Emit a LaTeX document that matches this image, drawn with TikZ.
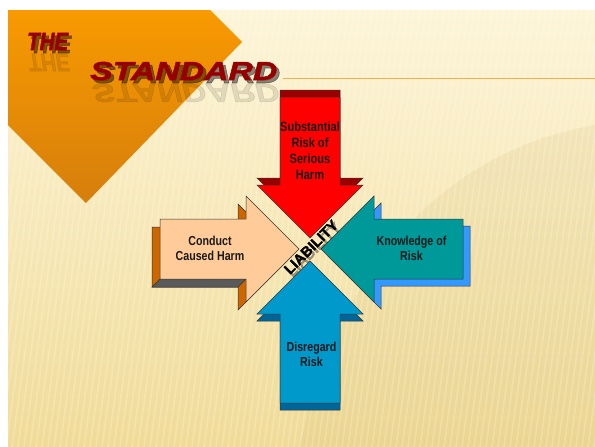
\documentclass[tikz,border=0pt]{standalone}
\usepackage{fontspec}
\usepackage{xcolor}
\usepackage{tikz}
\setmainfont{Liberation Sans}
\newfontfamily\narrowsans[FakeStretch=0.82]{Liberation Sans}
\newfontfamily\thesans[FakeStretch=0.82, FakeBold=2]{Liberation Sans}
\newfontfamily\widesans[FakeStretch=1.3, FakeBold=2]{Liberation Sans}
\newfontfamily\liabsans[FakeBold=1.2]{Liberation Sans}

\definecolor{bgtop}{RGB}{253,245,216}
\definecolor{bgbot}{RGB}{240,219,150}
\definecolor{swoosh}{RGB}{214,190,120}
\definecolor{orangetop}{RGB}{248,154,0}
\definecolor{orangebot}{RGB}{214,126,12}
\definecolor{titlered}{RGB}{150,0,0}
\definecolor{rule}{RGB}{240,176,80}
\definecolor{redface}{RGB}{255,0,0}
\definecolor{redside}{RGB}{153,0,0}
\definecolor{peachface}{RGB}{255,204,153}
\definecolor{peachside}{RGB}{204,102,0}
\definecolor{peachbot}{RGB}{90,90,90}
\definecolor{tealface}{RGB}{0,153,153}
\definecolor{tealside}{RGB}{51,153,255}
\definecolor{blueface}{RGB}{0,153,204}
\definecolor{blueside}{RGB}{0,102,153}

\begin{document}
\begin{tikzpicture}[x=1pt, y=-1pt, line join=miter,
    face/.style={draw=black!80, line width=0.5pt},
    boxtext/.style={font=\narrowsans\bfseries\fontsize{13}{15}\selectfont, align=center, text=black!90, inner sep=0pt},
    titletext/.style={inner sep=0pt, anchor=base west},
    liabtext/.style={font=\liabsans\bfseries\fontsize{14.5}{14.5}\selectfont, rotate=45, inner sep=0pt}]
  \useasboundingbox (0,0) rectangle (595,447);
  \fill[white] (0,0) rectangle (595,447);

  % slide background
  \shade[top color=bgtop, bottom color=bgbot] (8,10) rectangle (595,447);
  \begin{scope}
    \clip (8,10) rectangle (595,447);
    \fill[swoosh, opacity=0.18] (300,447) .. controls (340,260) and (450,150) .. (595,125) -- (595,447) -- cycle;
    \foreach \i in {0,6,...,690}
      \draw[white, opacity=0.2, line width=1.8pt] (\i-60,447) -- (\i,10);
  \end{scope}
  \shade[top color=orangetop, bottom color=orangebot] (8,10) -- (210,10) -- (242,42) -- (86,203) -- (8,125) -- cycle;
  \draw[rule, line width=1pt] (283,78) -- (595,78);

  % title
  \node[titletext, text=black, opacity=0.1, yscale=-1, font=\thesans\bfseries\itshape\fontsize{25}{25}\selectfont] (thereflect) at (28,54) {THE};
  \node[titletext, text=black, opacity=0.45, font=\thesans\bfseries\itshape\fontsize{25}{25}\selectfont] (theshadow) at (30,53) {THE};
  \node[titletext, text=titlered, font=\thesans\bfseries\itshape\fontsize{25}{25}\selectfont] (the) at (27,50) {THE};
  \node[titletext, text=black, opacity=0.1, yscale=-1, font=\widesans\bfseries\itshape\fontsize{26}{26}\selectfont] (standardreflect) at (92,84) {STANDARD};
  \node[titletext, text=black, opacity=0.45, font=\widesans\bfseries\itshape\fontsize{26}{26}\selectfont] (standardshadow) at (93,83) {STANDARD};
  \node[titletext, text=titlered, font=\widesans\bfseries\itshape\fontsize{26}{26}\selectfont] (standard) at (90,80) {STANDARD};

  % red arrow, down
  \draw[face, fill=redside, shift={(0,-7)}] (280,97) -- (340,97) -- (340,185) -- (363,185) -- (310,238) -- (257,185) -- (280,185) -- cycle;
  \draw[face, fill=redface] (280,97) -- (340,97) -- (340,185) -- (363,185) -- (310,238) -- (257,185) -- (280,185) -- cycle;

  % peach arrow, right
  \draw[face, fill=peachside, shift={(-8,8)}] (160,219) -- (246,219) -- (246,196) -- (299,249) -- (246,302) -- (246,279) -- (160,279) -- cycle;
  \draw[face, fill=peachbot] (160,279) -- (246,279) -- (238,287) -- (152,287) -- cycle;
  \draw[face, fill=peachface] (160,219) -- (246,219) -- (246,196) -- (299,249) -- (246,302) -- (246,279) -- (160,279) -- cycle;

  % teal arrow, left
  \draw[face, fill=tealside, shift={(7,7)}] (463,219) -- (374,219) -- (374,196) -- (321,249) -- (374,302) -- (374,279) -- (463,279) -- cycle;
  \draw[face, fill=tealface] (463,219) -- (374,219) -- (374,196) -- (321,249) -- (374,302) -- (374,279) -- (463,279) -- cycle;

  % blue arrow, up
  \draw[face, fill=blueside, shift={(0,7)}] (280,403) -- (340,403) -- (340,314) -- (363,314) -- (310,261) -- (257,314) -- (280,314) -- cycle;
  \draw[face, fill=blueface] (280,403) -- (340,403) -- (340,314) -- (363,314) -- (310,261) -- (257,314) -- (280,314) -- cycle;

  \node[boxtext, font=\narrowsans\bfseries\fontsize{13.5}{16}\selectfont] (harm) at (310,151) {Substantial\\Risk of\\Serious\\Harm};
  \node[boxtext] (conduct) at (210,248) {Conduct\\Caused Harm};
  \node[boxtext] (knowledge) at (411.5,248.5) {Knowledge of\\Risk};
  \node[boxtext] (disregard) at (311.5,354) {Disregard\\Risk};

  \node[liabtext, text=black, opacity=0.35] (liabshadow) at (313.5,249.5) {LIABILITY};
  \node[liabtext, text=black] (liability) at (311,247) {LIABILITY};
\end{tikzpicture}
\end{document}
